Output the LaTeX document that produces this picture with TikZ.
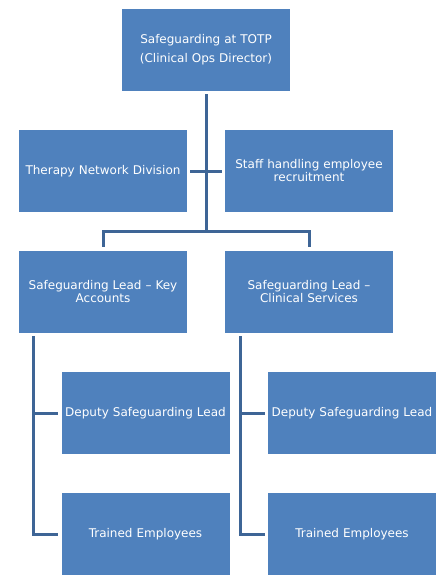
\documentclass[tikz,border=0pt]{standalone}
\usepackage{fontspec}
\setmainfont{DejaVu Sans}
\usetikzlibrary{positioning}
\definecolor{boxblue}{RGB}{79,129,189}
\definecolor{lineblue}{RGB}{62,101,150}
\tikzset{
  unit/.style = {fill=boxblue, draw=none, rectangle, minimum width=168pt, minimum height=82pt, inner sep=0pt, text width=166pt, align=center, text=white, font=\fontsize{12}{13}\selectfont},
  link/.style = {draw=lineblue, line width=3pt}
}

\begin{document}
\begin{tikzpicture}[x=1pt,y=1pt]
            \useasboundingbox (0,0) rectangle (445,-582);
            \node[unit] (top) at (206,-50) {Safeguarding at TOTP\\[6pt](Clinical Ops Director)};
            \node[unit] (therapy) at (103,-171) {Therapy Network Division};
            \node[unit] (staff) at (309,-171) {Staff handling employee\\recruitment};
            \node[unit] (leadka) at (103,-292) {Safeguarding Lead -- Key\\Accounts};
            \node[unit] (leadcs) at (309,-292) {Safeguarding Lead --\\Clinical Services};
            \node[unit] (deputyka) at (145.5,-413) {Deputy Safeguarding Lead};
            \node[unit] (deputycs) at (352,-413) {Deputy Safeguarding Lead};
            \node[unit] (trainedka) at (145.5,-534) {Trained Employees};
            \node[unit] (trainedcs) at (352,-534) {Trained Employees};
            \coordinate (trunk) at (206,-231);
            % top level
            \draw[link, shorten <=3pt] (top.south) -- (trunk);
            \draw[link, shorten <=3pt, shorten >=3pt] (therapy.east) -- (staff.west);
            \draw[link, shorten >=4pt] (trunk) -| (leadka.north);
            \draw[link, shorten >=4pt] (trunk) -| (leadcs.north);
            % lead branches
            \draw[link, shorten >=3pt] ([xshift=15pt,yshift=-3pt]leadka.south west) |- (deputyka.west);
            \draw[link, shorten >=3pt] ([xshift=15pt,yshift=-3pt]leadka.south west) |- (trainedka.west);
            \draw[link, shorten >=3pt] ([xshift=16pt,yshift=-3pt]leadcs.south west) |- (deputycs.west);
            \draw[link, shorten >=3pt] ([xshift=16pt,yshift=-3pt]leadcs.south west) |- (trainedcs.west);
        \end{tikzpicture}
\end{document}
